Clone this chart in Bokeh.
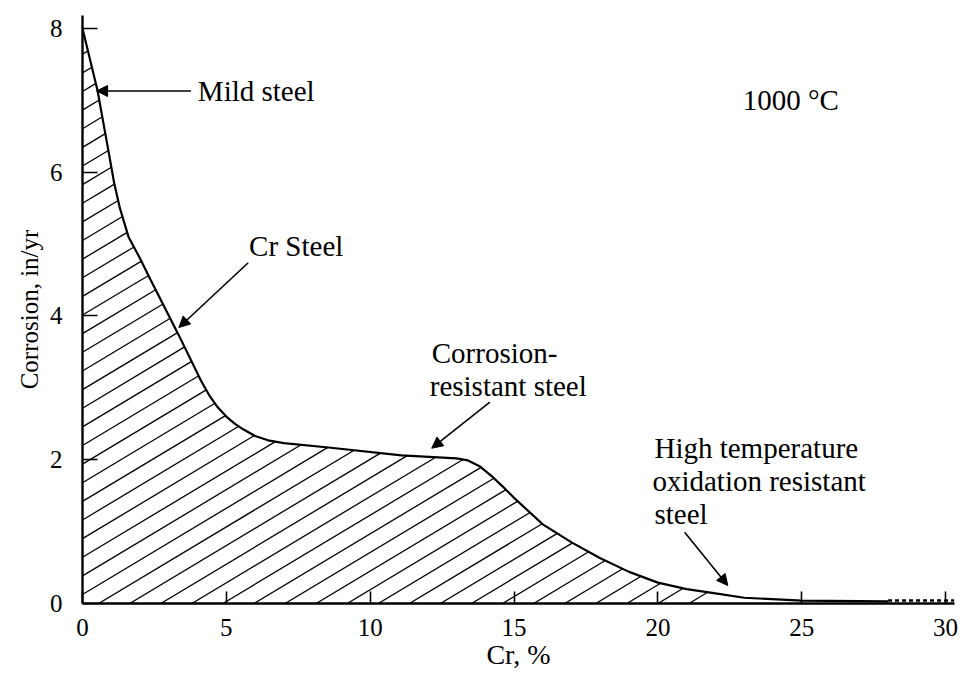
import numpy as np
from bokeh.plotting import figure
from bokeh.models import Arrow, NormalHead, Title, ColumnDataSource, FixedTicker, Range1d
from bokeh.core.properties import value
from bokeh.embed import file_html
from bokeh.resources import INLINE

# ---- data ----
cr = [0, 0.52, 0.9, 1.1, 1.3, 1.6, 2.0, 2.37, 3.35, 4.12, 4.4, 4.7, 5.0, 5.3, 5.6, 6.0,
      6.45, 7.0, 8.55, 11.09, 13.0, 13.4, 13.8, 14.2, 14.6, 15.0, 16.0, 17.0, 18.0,
      19.0, 20.0, 21.0, 22.0, 23.0, 25.0, 28.0]
corr = [8.0, 7.14, 6.3, 5.85, 5.5, 5.1, 4.8, 4.5, 3.73, 3.10, 2.90, 2.73, 2.60, 2.50,
        2.42, 2.33, 2.27, 2.23, 2.17, 2.06, 2.02, 1.99, 1.91, 1.78, 1.63, 1.47, 1.10,
        0.85, 0.63, 0.44, 0.29, 0.20, 0.14, 0.08, 0.04, 0.03]
tail_cr = [28.0, 30.3]
tail_corr = [0.04, 0.04]
x_ticks = [0, 5, 10, 15, 20, 25, 30]
y_ticks = [0, 2, 4, 6, 8]

FONT = "Liberation Serif"

p = figure(width=960, height=675, output_backend="svg", toolbar_location=None,
           x_range=Range1d(0, 30.31), y_range=Range1d(0, 8.18),
           min_border_left=82, min_border_right=6, min_border_top=15, min_border_bottom=72)
p.outline_line_color = None
p.xgrid.visible = False
p.ygrid.visible = False
p.background_fill_color = "white"
p.border_fill_color = "white"

# ---- hatch lines under the curve (style: slope / spacing) ----
m = 0.24
dx = 1.08
xs = np.linspace(0, cr[-1], 6000)
curve = np.interp(xs, cr, corr)
hx0, hy0, hx1, hy1 = [], [], [], []
for k in range(-40, 25):
    x0 = 0.56 + k * dx
    if x0 > 22.0:
        break
    if x0 >= 0:
        sx, sy = x0, 0.0
    else:
        sx, sy = 0.0, -m * x0
    if sy >= np.interp(sx, cr, corr):
        continue
    sel = xs >= sx
    d = curve[sel] - (sy + m * (xs[sel] - sx))
    idx = int(np.argmax(d <= 0))
    if d[idx] > 0:
        continue
    ex = xs[sel][idx]
    ey = sy + m * (ex - sx)
    hx0.append(sx); hy0.append(sy); hx1.append(ex); hy1.append(ey)

p.segment(hx0, hy0, hx1, hy1, line_color="black", line_width=1.3)

# ---- curve ----
p.line(cr, corr, line_color="black", line_width=2.2)
p.line(tail_cr, tail_corr, line_color="black", line_width=2.5, line_dash="4 3")

# ---- axes ----
for ax in (p.xaxis[0], p.yaxis[0]):
    ax.axis_line_width = 2.4
    ax.axis_line_color = "black"
    ax.major_tick_line_color = "black"
    ax.major_tick_line_width = 1.6
    ax.major_tick_out = 0
    ax.minor_tick_line_color = None
    ax.major_label_text_font = FONT
    ax.major_label_text_font_size = "25px"
    ax.major_label_text_color = "black"

p.xaxis.ticker = FixedTicker(ticks=x_ticks)
p.yaxis.ticker = FixedTicker(ticks=y_ticks)
p.xaxis.major_tick_in = 12
p.yaxis.major_tick_in = 15
p.xaxis.major_label_standoff = 15
p.yaxis.major_label_standoff = 20

p.xaxis.axis_label = "Cr, %"
p.xaxis.axis_label_text_font = FONT
p.xaxis.axis_label_text_font_size = "28px"
p.xaxis.axis_label_text_font_style = "normal"
p.xaxis.axis_label_text_color = "black"
p.xaxis.axis_label_standoff = 0

ytitle = Title(text="Corrosion, in/yr", align="center", offset=58, standoff=8,
               text_font=FONT, text_font_size="25px", text_font_style="normal",
               text_color="black")
p.add_layout(ytitle, "left")

# ---- annotations ----
ann = ColumnDataSource(dict(
    x=[4.01, 5.79, 12.14, 12.07, 22.95, 19.88, 19.81, 19.88],
    y=[7.13, 4.98, 3.49, 3.03, 7.0, 2.17, 1.71, 1.25],
    t=["Mild steel", "Cr Steel", "Corrosion-", "resistant steel", "1000 °C",
       "High temperature", "oxidation resistant", "steel"],
))
p.text(x="x", y="y", text="t", source=ann, text_font=value(FONT), text_font_size="29px",
       text_align="left", text_baseline="middle", text_color="black")

arrows = [
    (3.77, 7.13, 0.49, 7.13),
    (5.76, 4.74, 3.35, 3.84),
    (14.16, 2.80, 12.14, 2.16),
    (20.93, 0.99, 22.43, 0.25),
]
for xs_, ys_, xe, ye in arrows:
    p.add_layout(Arrow(end=NormalHead(size=11, fill_color="black", line_color="black"),
                       x_start=xs_, y_start=ys_, x_end=xe, y_end=ye,
                       line_color="black", line_width=1.6))

open("out.html", "w").write(file_html(p, INLINE))
